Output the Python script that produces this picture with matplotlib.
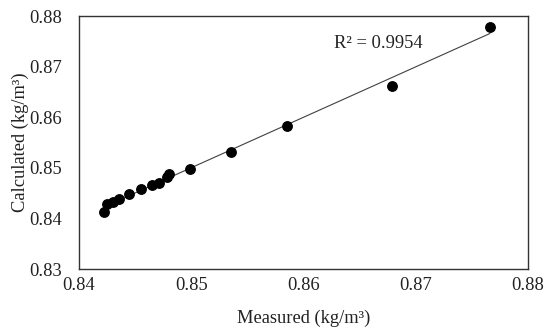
import numpy as np
import matplotlib.pyplot as plt

plt.rcParams['font.family'] = ['Liberation Serif', 'DejaVu Serif']

# measured vs calculated density
measured = [0.8422, 0.8425, 0.8430, 0.8436, 0.8445, 0.8455, 0.8465, 0.8471,
            0.8478, 0.8480, 0.8499, 0.8535, 0.8585, 0.8679, 0.8766]
calculated = [0.8412, 0.8428, 0.8433, 0.8439, 0.8448, 0.8458, 0.8466, 0.8471,
              0.8481, 0.8487, 0.8497, 0.8531, 0.8582, 0.8662, 0.8779]
r2_text = "R² = 0.9954"
xticks = [0.84, 0.85, 0.86, 0.87, 0.88]
yticks = [0.83, 0.84, 0.85, 0.86, 0.87, 0.88]

x = np.array(measured)
y = np.array(calculated)

fs = 13.3
fig = plt.figure(figsize=(5.5, 3.35), dpi=100)
ax = fig.add_axes([0.1436, 0.197, 0.8164, 0.755])

coef = np.polyfit(x, y, 1)
xl = np.array([x.min(), x.max()])
ax.plot(xl, np.polyval(coef, xl), color='#404040', lw=0.8, zorder=2)
ax.plot(x, y, 'o', color='black', markersize=6.8, zorder=3)

ax.text(0.8627, 0.8745, r2_text, fontsize=fs, color='#222222', va='center')

ax.set_xlim(0.84, 0.88)
ax.set_ylim(0.83, 0.88)
ax.set_xticks(xticks)
ax.set_yticks(yticks)
ax.set_xticklabels(['%.2f' % v for v in xticks])
ax.set_yticklabels(['%.2f' % v for v in yticks])
ax.tick_params(axis='both', length=0, labelsize=fs, colors='#222222')
ax.tick_params(axis='y', pad=12)
ax.tick_params(axis='x', pad=6)
for s in ax.spines.values():
    s.set_color('#333333')
    s.set_linewidth(1.0)

ax.set_xlabel('Measured (kg/m³)', fontsize=fs, color='#222222', labelpad=11)
ax.set_ylabel('Calculated (kg/m³)', fontsize=fs, color='#222222', labelpad=0)

fig.savefig('out.png', dpi=100)
